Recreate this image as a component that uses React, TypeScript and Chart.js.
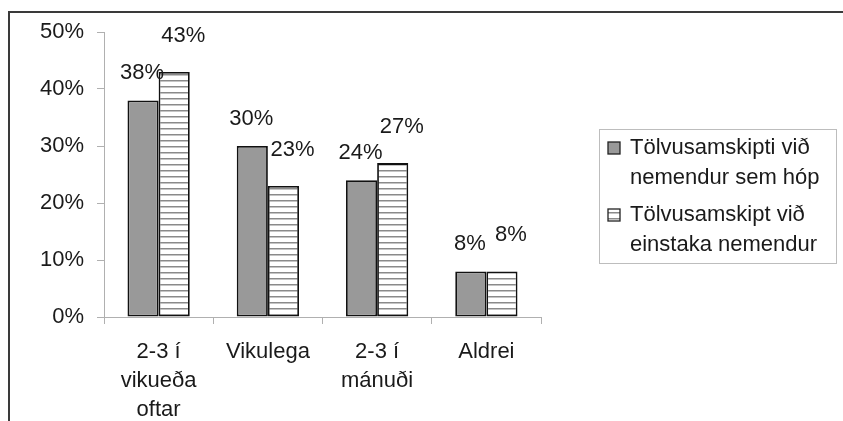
import React, { useEffect, useRef } from "react";
import { Chart, registerables } from "chart.js";

Chart.register(...registerables);

const categories: (string | string[])[] = [
  ["2-3 í", "vikueða", "oftar"],
  "Vikulega",
  ["2-3 í", "mánuði"],
  "Aldrei",
];
const seriesLines: string[][] = [
  ["Tölvusamskipti við", "nemendur sem hóp"],
  ["Tölvusamskipt við", "einstaka nemendur"],
];
const groupValues = [38, 30, 24, 8];
const individualValues = [43, 23, 27, 8];
const yTicks = [0, 10, 20, 30, 40, 50];

const FONT = "'Liberation Sans', Arial, sans-serif";

function makeStripes(ctx: CanvasRenderingContext2D): CanvasPattern | string {
  const c = document.createElement("canvas");
  c.width = 6;
  c.height = 6;
  const p = c.getContext("2d");
  if (!p) return "#ffffff";
  p.fillStyle = "#ffffff";
  p.fillRect(0, 0, 6, 6);
  p.fillStyle = "#8a8a8a";
  p.fillRect(0, 2, 6, 1.5);
  return ctx.createPattern(c, "repeat") || "#ffffff";
}

export default function App() {
  const ref = useRef<HTMLCanvasElement | null>(null);

  useEffect(() => {
    const canvas = ref.current;
    if (!canvas) return;
    const ctx = canvas.getContext("2d");
    if (!ctx) return;
    const stripes = makeStripes(ctx);

    const framePlugin = {
      id: "frame",
      beforeDraw(chart: any) {
        const c = chart.ctx;
        c.save();
        c.fillStyle = "#ffffff";
        c.fillRect(0, 0, chart.width, chart.height);
        c.strokeStyle = "#3a3a3a";
        c.lineWidth = 2;
        c.beginPath();
        c.moveTo(9, chart.height);
        c.lineTo(9, 12);
        c.lineTo(chart.width, 12);
        c.stroke();
        c.restore();
      },
    };

    const labelOffsets = [
      { dx: -1, dy: -27 },
      { dx: 9, dy: -36 },
    ];

    const valuePlugin = {
      id: "values",
      afterDatasetsDraw(chart: any) {
        const c = chart.ctx;
        c.save();
        c.font = `22px ${FONT}`;
        c.fillStyle = "#1a1a1a";
        c.textAlign = "center";
        c.textBaseline = "middle";
        chart.data.datasets.forEach((ds: any, di: number) => {
          const meta = chart.getDatasetMeta(di);
          meta.data.forEach((el: any, i: number) => {
            const o = labelOffsets[di];
            c.fillText(`${ds.data[i]}%`, el.x + o.dx, el.y + o.dy);
          });
        });
        c.restore();
      },
    };

    const legendPlugin = {
      id: "boxLegend",
      afterDraw(chart: any) {
        const c = chart.ctx;
        c.save();
        c.strokeStyle = "#bdbdbd";
        c.lineWidth = 1;
        c.strokeRect(599.5, 129.5, 237, 134);
        c.font = `22px ${FONT}`;
        c.textAlign = "left";
        c.textBaseline = "middle";
        const itemTops = [148, 215];
        chart.data.datasets.forEach((ds: any, di: number) => {
          const y0 = itemTops[di];
          c.fillStyle = ds.backgroundColor;
          c.fillRect(608, y0 - 6, 12, 12);
          c.strokeStyle = "#222";
          c.lineWidth = 1.3;
          c.strokeRect(608, y0 - 6, 12, 12);
          c.fillStyle = "#1a1a1a";
          seriesLines[di].forEach((line, li) => {
            c.fillText(line, 630, y0 + li * 30);
          });
        });
        c.restore();
      },
    };

    const chart = new Chart(canvas, {
      type: "bar",
      data: {
        labels: categories as any,
        datasets: [
          {
            label: seriesLines[0].join(" "),
            data: groupValues,
            backgroundColor: "#999999",
            borderColor: "#111111",
            borderWidth: 1.8,
            borderSkipped: false,
            categoryPercentage: 0.57,
            barPercentage: 1.0,
          },
          {
            label: seriesLines[1].join(" "),
            data: individualValues,
            backgroundColor: stripes as any,
            borderColor: "#111111",
            borderWidth: 1.8,
            borderSkipped: false,
            categoryPercentage: 0.57,
            barPercentage: 1.0,
          },
        ],
      },
      options: {
        responsive: false,
        animation: false,
        devicePixelRatio: 1,
        layout: { padding: { left: 0, top: 32, right: 302, bottom: 0 } },
        plugins: {
          legend: { display: false },
          tooltip: { enabled: false },
        },
        scales: {
          x: {
            grid: {
              display: true,
              drawOnChartArea: false,
              offset: true,
              tickLength: 7,
              color: "#b0b0b0",
            },
            border: { color: "#b0b0b0", width: 1 },
            ticks: {
              padding: 14,
              color: "#1a1a1a",
              font: { family: FONT, size: 22, lineHeight: 1.3 },
              maxRotation: 0,
              autoSkip: false,
            },
            afterFit(scale: any) {
              scale.height = 104;
            },
          },
          y: {
            min: 0,
            max: 50,
            afterBuildTicks(scale: any) {
              scale.ticks = yTicks.map((v) => ({ value: v }));
            },
            grid: {
              display: true,
              drawOnChartArea: false,
              tickLength: 7,
              color: "#b0b0b0",
            },
            border: { color: "#b0b0b0", width: 1 },
            ticks: {
              padding: 13,
              color: "#1a1a1a",
              font: { family: FONT, size: 22 },
              callback: (v: any) => `${v}%`,
            },
            afterFit(scale: any) {
              scale.width = 104;
            },
          },
        },
      },
      plugins: [framePlugin, valuePlugin, legendPlugin],
    });

    return () => chart.destroy();
  }, []);

  return (
    <div style={{ position: "absolute", left: 0, top: 0, width: 843, height: 421 }}>
      <canvas ref={ref} width={843} height={421} style={{ width: 843, height: 421 }} />
    </div>
  );
}
